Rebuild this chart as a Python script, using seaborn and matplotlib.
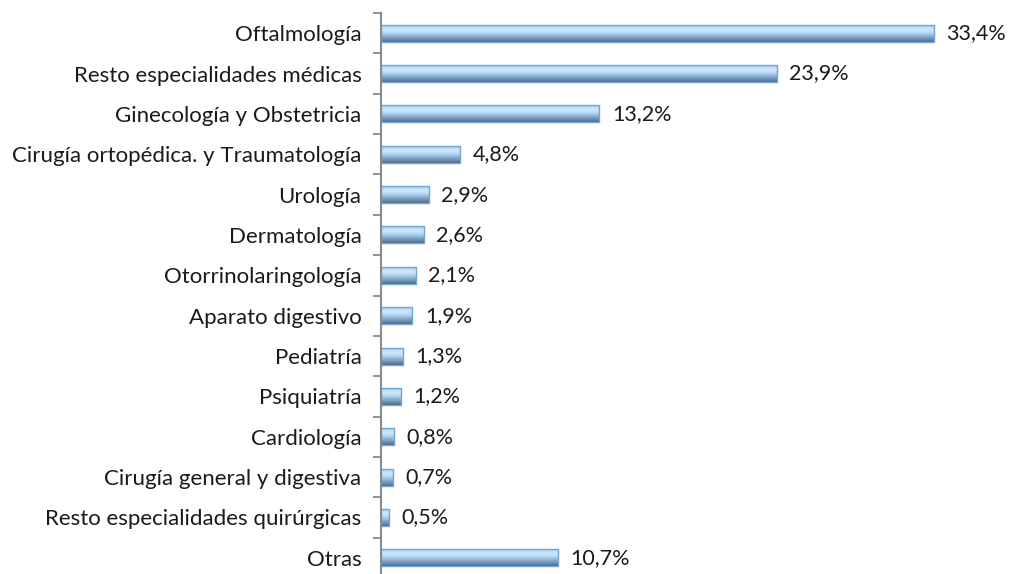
import numpy as np
import pandas as pd
import matplotlib
matplotlib.use('Agg')
import matplotlib.pyplot as plt
from matplotlib.colors import LinearSegmentedColormap
import seaborn as sns

especialidades = ['Oftalmología', 'Resto especialidades médicas', 'Ginecología y Obstetricia',
                  'Cirugía ortopédica. y Traumatología', 'Urología', 'Dermatología',
                  'Otorrinolaringología', 'Aparato digestivo', 'Pediatría', 'Psiquiatría',
                  'Cardiología', 'Cirugía general y digestiva', 'Resto especialidades quirúrgicas',
                  'Otras']
porcentajes = [33.4, 23.9, 13.2, 4.8, 2.9, 2.6, 2.1, 1.9, 1.3, 1.2, 0.8, 0.7, 0.5, 10.7]

df = pd.DataFrame({'especialidad': especialidades, 'pct': porcentajes})

sns.set_style('white')
plt.rcParams['font.family'] = ['Lato', 'DejaVu Sans']

fig = plt.figure(figsize=(10.09, 5.74), dpi=100)
ax = fig.add_axes([381 / 1009, -4 / 574, 619 / 1009, 565 / 574])

sns.barplot(data=df, x='pct', y='especialidad', orient='h', ax=ax,
            color='#8fbce6', edgecolor='#6fa6da', linewidth=1.0, width=0.42)

# cylinder-like vertical gradient inside each bar
grad_cmap = LinearSegmentedColormap.from_list('cyl', [
    (0.0, '#a9cdee'), (0.25, '#cfe9fd'), (0.45, '#b6d8f5'),
    (0.7, '#86a9cb'), (1.0, '#4f6b86')])
grad = np.linspace(0, 1, 64).reshape(-1, 1)
for p in ax.patches:
    x0, y0 = p.get_x(), p.get_y()
    w, h = p.get_width(), p.get_height()
    im = ax.imshow(grad, cmap=grad_cmap, aspect='auto', origin='upper',
                   extent=(x0, x0 + w, y0 + h, y0), zorder=p.get_zorder() + 0.1)
    im.set_clip_path(p)
    p.set_zorder(p.get_zorder() + 0.2)
    p.set_facecolor('none')

for i, v in enumerate(porcentajes):
    ax.text(v + 0.75, i, f'{v:.1f}%'.replace('.', ','), va='center', ha='left',
            fontsize=15.5, color='#1a1a1a')

ax.set_xlim(0, 37.4)
ax.set_ylim(len(especialidades) - 0.5, -0.5)
ax.set_xlabel('')
ax.set_ylabel('')
ax.set_xticks([])
ax.tick_params(axis='y', which='major', left=False, length=0, pad=14,
               labelsize=16, labelcolor='#1a1a1a')
ax.set_yticks(np.arange(-0.5, len(especialidades) - 0.4, 1), minor=True)
ax.tick_params(axis='y', which='minor', left=True, length=6, width=1.3,
               color='#8a8a8a', direction='out')
for s in ['top', 'right', 'bottom']:
    ax.spines[s].set_visible(False)
ax.spines['left'].set_color('#8a8a8a')
ax.spines['left'].set_linewidth(1.5)

fig.savefig('out.png', dpi=100)
